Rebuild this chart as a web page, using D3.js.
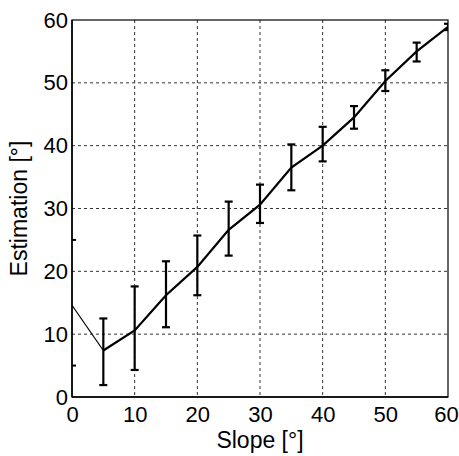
<!DOCTYPE html>
<html>
<head>
<meta charset="utf-8">
<script src="https://cdn.jsdelivr.net/npm/d3@7"></script>
<style>
  body { margin: 0; background: #fff; }
  text { font-family: "Liberation Sans", Arial, sans-serif; fill: #000; }
</style>
</head>
<body>
<svg id="chart" width="459" height="456"></svg>
<script>
// Data
const slopes    = [5, 10, 15, 20, 25, 30, 35, 40, 45, 50, 55, 60];
const estimates = [7.4, 10.6, 16.2, 20.7, 26.6, 30.6, 36.5, 40.0, 44.5, 50.3, 55.0, 58.9];
const errLow    = [1.9, 4.3, 11.1, 16.2, 22.5, 27.7, 32.9, 37.5, 42.7, 48.7, 53.4, 58.4];
const errHigh   = [12.5, 17.6, 21.6, 25.7, 31.1, 33.8, 40.2, 43.0, 46.3, 52.0, 56.4, 59.4];
// thin lead-in line from slope 0
const leadX = [0, 5];
const leadY = [14.6, 7.4];
const xTicks = [0, 10, 20, 30, 40, 50, 60];
const yTicks = [0, 10, 20, 30, 40, 50, 60];
const yExtraTicks = [5, 25];

const svg = d3.select("#chart");
const pL = 72, pR = 448, pT = 20, pB = 397;
const x = d3.scaleLinear().domain([0, 60]).range([pL, pR]);
const y = d3.scaleLinear().domain([0, 60]).range([pB, pT]);

svg.append("defs").append("clipPath").attr("id", "clip")
  .append("rect").attr("x", pL).attr("y", pT).attr("width", pR - pL).attr("height", pB - pT);

// grid
const g = svg.append("g");
g.selectAll(".vg").data(xTicks.filter(d => d > 0 && d < 60)).enter().append("line")
  .attr("x1", d => x(d)).attr("x2", d => x(d)).attr("y1", pT).attr("y2", pB)
  .attr("stroke", "#333").attr("stroke-width", 1).attr("stroke-dasharray", "3,3");
g.selectAll(".hg").data(yTicks.filter(d => d > 0 && d < 60)).enter().append("line")
  .attr("y1", d => y(d)).attr("y2", d => y(d)).attr("x1", pL).attr("x2", pR)
  .attr("stroke", "#333").attr("stroke-width", 1).attr("stroke-dasharray", "3,3");

// box
svg.append("rect").attr("x", pL).attr("y", pT).attr("width", pR - pL).attr("height", pB - pT)
  .attr("fill", "none").attr("stroke", "#000").attr("stroke-width", 1.2);
svg.append("line").attr("x1", pL).attr("x2", pL).attr("y1", pT).attr("y2", pB).attr("stroke", "#000").attr("stroke-width", 1.5);
svg.append("line").attr("x1", pL).attr("x2", pR).attr("y1", pB).attr("y2", pB).attr("stroke", "#000").attr("stroke-width", 1.5);

// extra small ticks on left axis
svg.selectAll(".et").data(yExtraTicks).enter().append("line")
  .attr("x1", pL).attr("x2", pL + 4).attr("y1", d => y(d)).attr("y2", d => y(d))
  .attr("stroke", "#000").attr("stroke-width", 2);

const font = '"Liberation Sans", Arial, sans-serif';
// axes labels via d3 axes
const xAxis = d3.axisBottom(x).tickValues(xTicks).tickSize(0).tickPadding(9);
const xg = svg.append("g").attr("transform", `translate(0,${pB})`).call(xAxis);
xg.select(".domain").remove();
xg.selectAll("text").attr("font-size", 22).style("font-family", font).attr("fill", "#000")
  .attr("dx", d => d === 60 ? -2 : 0);

const yAxis = d3.axisLeft(y).tickValues(yTicks).tickSize(0).tickPadding(4);
const yg = svg.append("g").attr("transform", `translate(${pL},0)`).call(yAxis);
yg.select(".domain").remove();
yg.selectAll("text").attr("font-size", 22).style("font-family", font).attr("fill", "#000");

// titles
svg.append("text").attr("x", (pL + pR) / 2).attr("y", 448).attr("text-anchor", "middle")
  .attr("font-size", 23).text("Slope [°]");
svg.append("text").attr("transform", `translate(27,${(pT + pB) / 2}) rotate(-90)`).attr("text-anchor", "middle")
  .attr("font-size", 23).text("Estimation [°]");

const plot = svg.append("g").attr("clip-path", "url(#clip)");

// lead-in thin line
plot.append("path").datum(leadX.map((d, i) => [d, leadY[i]]))
  .attr("d", d3.line().x(d => x(d[0])).y(d => y(d[1])))
  .attr("fill", "none").attr("stroke", "#000").attr("stroke-width", 1.2);

// main line
plot.append("path").datum(slopes.map((d, i) => [d, estimates[i]]))
  .attr("d", d3.line().x(d => x(d[0])).y(d => y(d[1])))
  .attr("fill", "none").attr("stroke", "#000").attr("stroke-width", 2.2);

// error bars
const cap = 4;
const eb = plot.selectAll(".eb").data(slopes).enter().append("g");
eb.append("line").attr("x1", d => x(d)).attr("x2", d => x(d))
  .attr("y1", (d, i) => y(errLow[i])).attr("y2", (d, i) => y(errHigh[i]))
  .attr("stroke", "#000").attr("stroke-width", 2.2);
eb.append("line").attr("x1", d => x(d) - cap).attr("x2", d => x(d) + cap)
  .attr("y1", (d, i) => y(errLow[i])).attr("y2", (d, i) => y(errLow[i]))
  .attr("stroke", "#000").attr("stroke-width", 2.2);
eb.append("line").attr("x1", d => x(d) - cap).attr("x2", d => x(d) + cap)
  .attr("y1", (d, i) => y(errHigh[i])).attr("y2", (d, i) => y(errHigh[i]))
  .attr("stroke", "#000").attr("stroke-width", 2.2);
</script>
</body>
</html>
